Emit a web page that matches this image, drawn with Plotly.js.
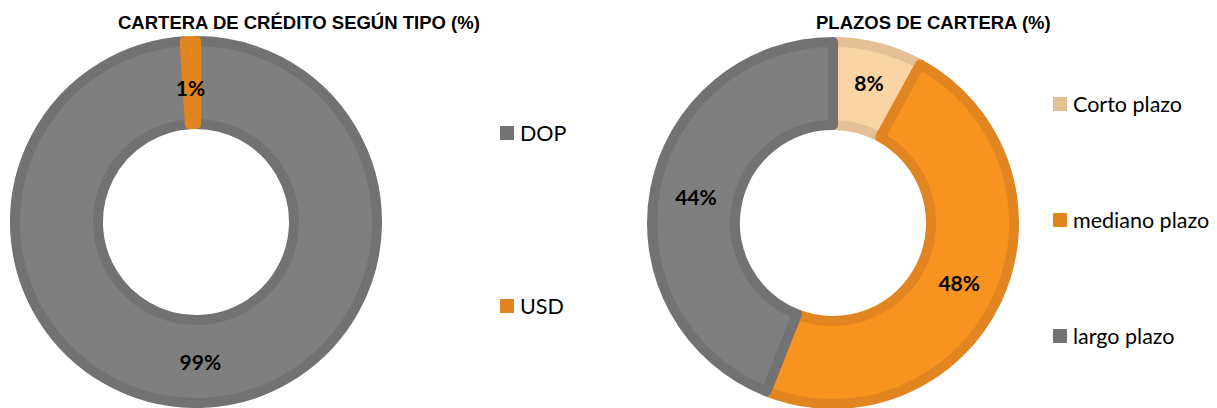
<!DOCTYPE html>
<html>
<head>
<meta charset="utf-8">
<script src="https://cdn.plot.ly/plotly-3.0.1.min.js"></script>
<style>html,body{margin:0;padding:0;background:#fff;}#chart{width:1217px;height:408px;}</style>
</head>
<body>
<div id="chart"></div>
<script>
// ---- data ----
const tipoLabels = ['DOP', 'USD'];
const tipoValues = [99, 1];
const plazoLabels = ['Corto plazo', 'mediano plazo', 'largo plazo'];
const plazoValues = [8, 48, 44];
const title1 = 'CARTERA DE CRÉDITO SEGÚN TIPO (%)';
const title2 = 'PLAZOS DE CARTERA (%)';

// ---- styles ----
const tipoFill = ['#7f7f7f', '#f7931e'];
const tipoLine = ['#727272', '#e0851f'];
const plazoFill = ['#fad4a4', '#f7931e', '#7f7f7f'];
const plazoLine = ['#e3c096', '#e0851f', '#727272'];

const W = 1217, H = 408;
const px = x => x / W;
const py = y => 1 - y / H;
const LINE = 10;

function domainFor(cx, cy, R) {
  return { x: [px(cx - R), px(cx + R)], y: [py(cy + R), py(cy - R)] };
}

const labelFont = { family: 'Lato, Carlito, sans-serif', size: 21, color: '#000', weight: 'bold' };

const trace1 = {
  type: 'pie', labels: tipoLabels, values: tipoValues, sort: false,
  direction: 'clockwise', rotation: 0, hole: 98 / 181,
  domain: domainFor(196, 222, 181),
  marker: { colors: tipoFill, line: { color: tipoLine, width: LINE } },
  // thin slice: label pushed toward the middle of the ring with leading blank lines
  texttemplate: ['%{value}%', ' <br> <br> <br>%{value}%'],
  textposition: 'inside', insidetextorientation: 'horizontal',
  textfont: labelFont, hoverinfo: 'none', showlegend: false
};
const trace2 = {
  type: 'pie', labels: plazoLabels, values: plazoValues, sort: false,
  direction: 'clockwise', rotation: 0, hole: 98 / 181,
  domain: domainFor(833, 223, 181),
  marker: { colors: plazoFill, line: { color: plazoLine, width: LINE } },
  texttemplate: '%{value}%', textposition: 'inside', insidetextorientation: 'horizontal',
  textfont: labelFont, hoverinfo: 'none', showlegend: false
};

// legend (built from the label arrays)
const annotations = [];
const shapes = [];
function addLegend(labels, colors, x, ys) {
  labels.forEach((lab, i) => {
    const y = ys[i];
    shapes.push({ type: 'rect', xref: 'paper', yref: 'paper',
      x0: px(x - 7), x1: px(x + 7), y0: py(y + 7), y1: py(y - 7),
      fillcolor: colors[i], line: { width: 0 } });
    annotations.push({ xref: 'paper', yref: 'paper', x: px(x + 11), y: py(y),
      xanchor: 'left', yanchor: 'middle', showarrow: false, text: lab,
      font: { family: 'Lato, Carlito, sans-serif', size: 21.5, color: '#000' } });
  });
}
addLegend(tipoLabels, tipoLine, 507, [133, 306]);
addLegend(plazoLabels, plazoLine, 1060, [104, 220, 336]);

const titleFont = { family: 'Liberation Sans, Arial, sans-serif', size: 18.5, color: '#000', weight: 'bold' };
annotations.push({ xref: 'paper', yref: 'paper', x: px(299), y: py(22), xanchor: 'center', yanchor: 'middle',
  showarrow: false, text: title1, font: titleFont });
annotations.push({ xref: 'paper', yref: 'paper', x: px(933), y: py(22), xanchor: 'center', yanchor: 'middle',
  showarrow: false, text: title2, font: titleFont });

const layout = {
  width: W, height: H, margin: { l: 0, r: 0, t: 0, b: 0 },
  paper_bgcolor: '#fff', plot_bgcolor: '#fff',
  uniformtext: { mode: 'show', minsize: 21 },
  showlegend: false, annotations, shapes
};
Plotly.newPlot('chart', [trace1, trace2], layout, { displayModeBar: false, staticPlot: true });
</script>
</body>
</html>
